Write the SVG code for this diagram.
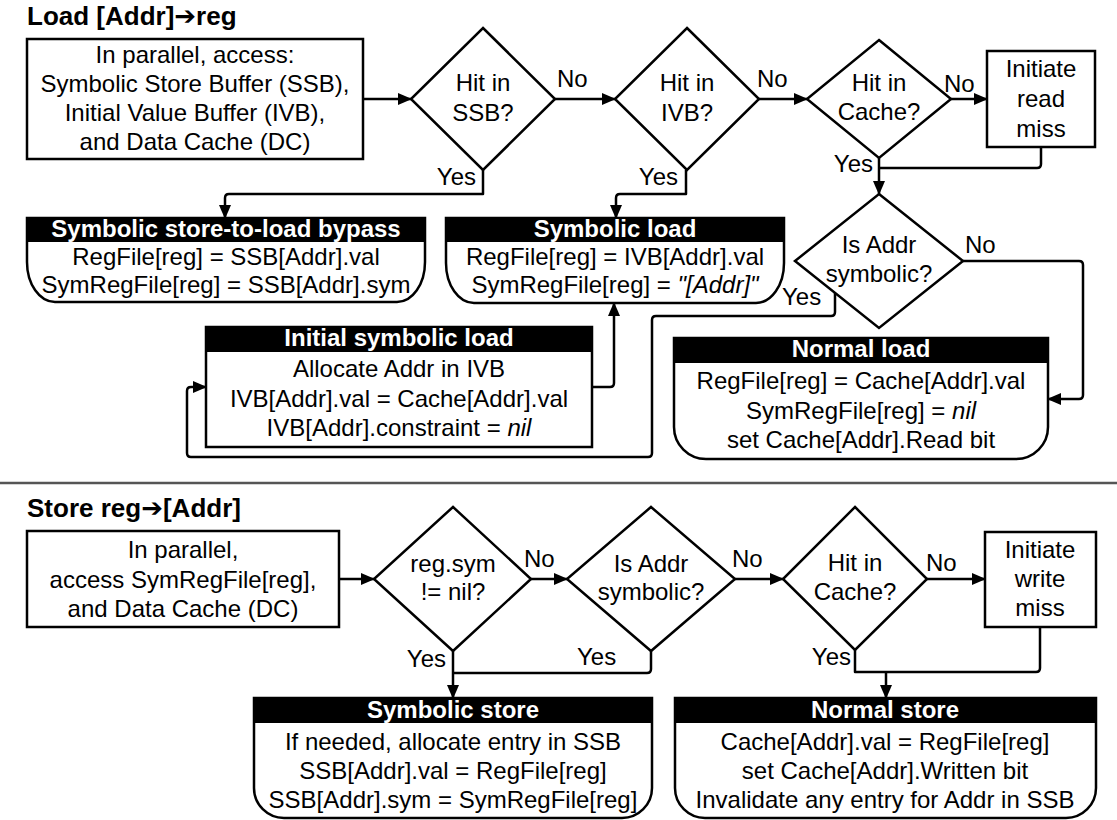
<svg xmlns="http://www.w3.org/2000/svg" width="1117" height="820" viewBox="0 0 1117 820">
<defs>
<marker id="ah" markerUnits="userSpaceOnUse" markerWidth="14" markerHeight="12" viewBox="0 0 14 12" refX="13" refY="6" orient="auto">
<path d="M0,0 L14,6 L0,12 Z" fill="#000"/>
</marker>
</defs>
<style>
text{font-family:"Liberation Sans",Arial,Helvetica,sans-serif;font-size:24px;fill:#000}
.c{text-anchor:middle}
.e{text-anchor:end}
.t{font-weight:bold;font-size:26px}
.h{font-weight:bold;font-size:24px;fill:#fff;text-anchor:middle}
.i{font-style:italic}
.box{fill:#fff;stroke:#000;stroke-width:2.5}
.hd{fill:#000}
.dia{fill:#fff;stroke:#000;stroke-width:2.5;stroke-linejoin:miter}
.ln{fill:none;stroke:#000;stroke-width:2.5;stroke-linejoin:round}
.ar{marker-end:url(#ah)}
</style>
<rect width="1117" height="820" fill="#fff"/>

<text class="t" x="27" y="25">Load [Addr]<tspan font-family="'DejaVu Sans',sans-serif">➔</tspan>reg</text>
<line x1="0" y1="483" x2="1117" y2="483" stroke="#555" stroke-width="2.5"/>
<text class="t" x="27" y="517">Store reg<tspan font-family="'DejaVu Sans',sans-serif">➔</tspan>[Addr]</text>

<g id="connectors">
<path class="ln ar" d="M363,99 H411"/>
<path class="ln ar" d="M555,99 H615"/>
<path class="ln ar" d="M759,99 H807"/>
<path class="ln ar" d="M951,99 H987"/>
<path class="ln ar" d="M483,170 V194 H229 Q225,194 225,198 V218"/>
<path class="ln ar" d="M686,170 V194 H620 Q616,194 616,198 V218"/>
<path class="ln" d="M1041,147 V164 Q1041,168 1037,168 H879"/>
<path class="ln ar" d="M879,158 V194"/>
<path class="ln ar" d="M963,261 H1079 Q1083,261 1083,265 V395 Q1083,399 1079,399 H1048"/>
<path class="ln ar" d="M835,293 V312 Q835,316 831,316 H656 Q652,316 652,320 V453 Q652,457 648,457 H191 Q187,457 187,453 V391 Q187,387 191,387 H206"/>
<path class="ln ar" d="M592,387 H610 Q614,387 614,383 V303"/>
<path class="ln ar" d="M339,579 H374"/>
<path class="ln ar" d="M531,579 H567"/>
<path class="ln ar" d="M735,579 H783"/>
<path class="ln ar" d="M927,579 H985"/>
<path class="ln ar" d="M453,651 V698"/>
<path class="ln" d="M651,651 V669 Q651,673 647,673 H453"/>
<path class="ln" d="M855,650 V672 H1036 Q1040,672 1040,668 V627"/>
<path class="ln ar" d="M886,672 V698"/>
<text x="557" y="87">No</text>
<text x="757" y="87">No</text>
<text x="944" y="92">No</text>
<text class="e" x="476" y="185">Yes</text>
<text class="e" x="678" y="185">Yes</text>
<text class="e" x="873" y="172">Yes</text>
<text x="965" y="253">No</text>
<text x="782" y="305">Yes</text>
<text x="524" y="567">No</text>
<text x="732" y="567">No</text>
<text x="926" y="571">No</text>
<text class="e" x="446" y="667">Yes</text>
<text x="577" y="665">Yes</text>
<text class="e" x="851" y="665">Yes</text>
</g>

<g id="load-start">
<rect class="box" x="27" y="39" width="336" height="120"/>
<text class="c" x="195" y="63">In parallel, access:</text>
<text class="c" x="195" y="92">Symbolic Store Buffer (SSB),</text>
<text class="c" x="195" y="121">Initial Value Buffer (IVB),</text>
<text class="c" x="195" y="150">and Data Cache (DC)</text>
</g>
<g id="hit-ssb">
<polygon class="dia" points="483,28 555,99 483,170 411,99"/>
<text class="c" x="483" y="91">Hit in</text>
<text class="c" x="483" y="121">SSB?</text>
</g>
<g id="hit-ivb">
<polygon class="dia" points="687,28 759,99 687,170 615,99"/>
<text class="c" x="687" y="91">Hit in</text>
<text class="c" x="687" y="121">IVB?</text>
</g>
<g id="hit-cache-load">
<polygon class="dia" points="879,40 951,99 879,158 807,99"/>
<text class="c" x="879" y="91">Hit in</text>
<text class="c" x="879" y="120">Cache?</text>
</g>
<g id="read-miss">
<rect class="box" x="987" y="51" width="108" height="96"/>
<text class="c" x="1041" y="77">Initiate</text>
<text class="c" x="1041" y="107">read</text>
<text class="c" x="1041" y="137">miss</text>
</g>
<g id="addr-symbolic-load">
<polygon class="dia" points="879,194 963,261 879,328 795,261"/>
<text class="c" x="879" y="253">Is Addr</text>
<text class="c" x="879" y="282">symbolic?</text>
</g>
<g id="bypass">
<path class="box" d="M27,218 H425 V262 A28,40 0 0 1 397,302 H55 A28,40 0 0 1 27,262 Z"/>
<rect class="hd" x="27" y="218" width="398" height="24"/>
<text class="h" x="226" y="237">Symbolic store-to-load bypass</text>
<text class="c" x="226" y="265">RegFile[reg] = SSB[Addr].val</text>
<text class="c" x="226" y="293">SymRegFile[reg] = SSB[Addr].sym</text>
</g>
<g id="symbolic-load">
<path class="box" d="M446,218 H784 V263 A28,40 0 0 1 756,303 H474 A28,40 0 0 1 446,263 Z"/>
<rect class="hd" x="446" y="218" width="338" height="24"/>
<text class="h" x="615" y="237">Symbolic load</text>
<text class="c" x="615" y="265">RegFile[reg] = IVB[Addr].val</text>
<text class="c" x="615" y="293">SymRegFile[reg] = <tspan class="i">"[Addr]"</tspan></text>
</g>
<g id="initial-symbolic-load">
<rect class="box" x="206" y="327" width="386" height="120"/>
<rect class="hd" x="206" y="327" width="386" height="25"/>
<text class="h" x="399" y="346">Initial symbolic load</text>
<text class="c" x="399" y="377">Allocate Addr in IVB</text>
<text class="c" x="399" y="407">IVB[Addr].val = Cache[Addr].val</text>
<text class="c" x="399" y="436">IVB[Addr].constraint = <tspan class="i">nil</tspan></text>
</g>
<g id="normal-load">
<path class="box" d="M674,338 H1048 V427 A32,32 0 0 1 1016,459 H706 A32,32 0 0 1 674,427 Z"/>
<rect class="hd" x="674" y="338" width="374" height="25"/>
<text class="h" x="861" y="357">Normal load</text>
<text class="c" x="861" y="389">RegFile[reg] = Cache[Addr].val</text>
<text class="c" x="861" y="419">SymRegFile[reg] = <tspan class="i">nil</tspan></text>
<text class="c" x="861" y="448">set Cache[Addr].Read bit</text>
</g>

<g id="store-start">
<rect class="box" x="27" y="531" width="312" height="96"/>
<text class="c" x="183" y="558">In parallel,</text>
<text class="c" x="183" y="588">access SymRegFile[reg],</text>
<text class="c" x="183" y="617">and Data Cache (DC)</text>
</g>
<g id="regsym-nil">
<polygon class="dia" points="453,507 531,579 453,651 374,579"/>
<text class="c" x="453" y="572">reg.sym</text>
<text class="c" x="453" y="600">!= nil?</text>
</g>
<g id="addr-symbolic-store">
<polygon class="dia" points="651,507 735,579 651,651 567,579"/>
<text class="c" x="651" y="572">Is Addr</text>
<text class="c" x="651" y="600">symbolic?</text>
</g>
<g id="hit-cache-store">
<polygon class="dia" points="855,507 927,579 855,650 783,579"/>
<text class="c" x="855" y="571">Hit in</text>
<text class="c" x="855" y="600">Cache?</text>
</g>
<g id="write-miss">
<rect class="box" x="985" y="532" width="111" height="95"/>
<text class="c" x="1040" y="558">Initiate</text>
<text class="c" x="1040" y="587">write</text>
<text class="c" x="1040" y="616">miss</text>
</g>
<g id="symbolic-store">
<path class="box" d="M254,698 H652 V788 A30,30 0 0 1 622,818 H284 A30,30 0 0 1 254,788 Z"/>
<rect class="hd" x="254" y="698" width="398" height="25"/>
<text class="h" x="453" y="718">Symbolic store</text>
<text class="c" x="453" y="750">If needed, allocate entry in SSB</text>
<text class="c" x="453" y="779">SSB[Addr].val = RegFile[reg]</text>
<text class="c" x="453" y="808">SSB[Addr].sym = SymRegFile[reg]</text>
</g>
<g id="normal-store">
<path class="box" d="M675,698 H1096 V788 A30,30 0 0 1 1066,818 H705 A30,30 0 0 1 675,788 Z"/>
<rect class="hd" x="675" y="698" width="421" height="25"/>
<text class="h" x="885" y="718">Normal store</text>
<text class="c" x="885" y="750">Cache[Addr].val = RegFile[reg]</text>
<text class="c" x="885" y="779">set Cache[Addr].Written bit</text>
<text class="c" x="885" y="808">Invalidate any entry for Addr in SSB</text>
</g>
</svg>
